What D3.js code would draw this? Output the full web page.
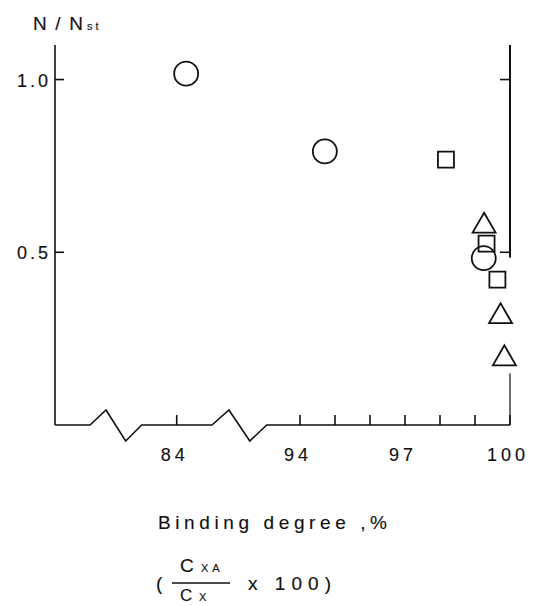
<!DOCTYPE html>
<html>
<head>
<meta charset="utf-8">
<script src="https://cdn.jsdelivr.net/npm/d3@7"></script>
<style>
  body { margin: 0; background: #fff; }
  svg { display: block; }
  text { font-family: "Liberation Sans", Arial, sans-serif; fill: #111; stroke: #111; stroke-width: 0.15; }
</style>
</head>
<body>
<div class="wrapper"></div>
<script>
// values
var xTicks = [84, 94, 95, 96, 97, 98, 99, 100];
var xTickLabels = [84, 94, 97, 100];
var yTicks = [0.5, 1.0];
var yTickLabels = ["0.5", "1.0"];

// [binding degree %, N/Nst]
var circles = [[84.27, 1.017], [94.71, 0.792], [99.25, 0.483]];
var squares = [[98.17, 0.768], [99.33, 0.525], [99.64, 0.421]];
var triangles = [[99.26, 0.576], [99.73, 0.314], [99.84, 0.192]];

var width = 534, height = 606;
var margin = { left: 55, right: 510, top: 45, bottom: 425 };

var svg = d3.select(".wrapper").append("svg")
  .attr("width", width)
  .attr("height", height);

// broken x scale: two segments with the same unit length
var x = d3.scaleLinear()
  .domain([83, 85, 93, 100])
  .range([141.7, 211.7, 265, margin.right]);

var y = d3.scaleLinear()
  .domain([0, 1.1])
  .range([margin.bottom, margin.top]);

var axisG = svg.append("g")
  .attr("fill", "none")
  .attr("stroke", "#111")
  .attr("stroke-width", 1.6);

// left axis
axisG.append("line")
  .attr("x1", margin.left).attr("x2", margin.left)
  .attr("y1", y(1.1)).attr("y2", y(0));

// right axis, drawn in two pieces like the original
axisG.append("line")
  .attr("x1", x(100)).attr("x2", x(100))
  .attr("y1", y(1.1)).attr("y2", y(0.485))
  .attr("stroke-width", 2);
axisG.append("line")
  .attr("x1", x(100)).attr("x2", x(100))
  .attr("y1", y(0.15)).attr("y2", y(0))
  .attr("stroke-width", 1.2);

// bottom axis with two zigzag breaks
function zigzag(x0, x1) {
  var w = x1 - x0;
  return [[x0, 0], [x0 + w * 0.31, -15], [x0 + w * 0.69, 16], [x1, 0]];
}
var seg1End = margin.left + 35;
var seg2Start = x(83), seg2End = x(85.04), seg3Start = x(93.05);
var pts = [[margin.left, 0]]
  .concat(zigzag(seg1End, seg2Start))
  .concat(zigzag(seg2End, seg3Start))
  .concat([[x(100), 0]]);
axisG.append("path")
  .attr("transform", "translate(0," + margin.bottom + ")")
  .attr("stroke-linejoin", "miter")
  .attr("d", d3.line()(pts));

// x ticks (pointing up)
axisG.selectAll(".xtick").data(xTicks).enter().append("line")
  .attr("class", "xtick")
  .attr("x1", d => x(d)).attr("x2", d => x(d))
  .attr("y1", margin.bottom).attr("y2", margin.bottom - 10);

// y ticks: left side inwards, right side inwards
axisG.selectAll(".ytickL").data(yTicks).enter().append("line")
  .attr("class", "ytickL")
  .attr("x1", margin.left).attr("x2", margin.left + 9)
  .attr("y1", d => y(d)).attr("y2", d => y(d));
axisG.selectAll(".ytickR").data(yTicks).enter().append("line")
  .attr("class", "ytickR")
  .attr("x1", x(100)).attr("x2", x(100) - 10)
  .attr("y1", d => y(d)).attr("y2", d => y(d));

// tick labels
svg.selectAll(".xlab").data(xTickLabels).enter().append("text")
  .attr("class", "xlab")
  .attr("x", d => x(d) - 2)
  .attr("y", margin.bottom + 36)
  .attr("text-anchor", "middle")
  .attr("font-size", 18)
  .attr("letter-spacing", 4)
  .text(d => d);

svg.selectAll(".ylab").data(yTicks).enter().append("text")
  .attr("class", "ylab")
  .attr("x", 17)
  .attr("y", d => y(d) + 7)
  .attr("font-size", 18)
  .attr("letter-spacing", 3)
  .text((d, i) => yTickLabels[i]);

// y title
var yTitle = svg.append("text")
  .attr("x", 33).attr("y", 30)
  .attr("font-size", 19);
yTitle.append("tspan").attr("textLength", 50).attr("lengthAdjust", "spacing").text("N/N");
yTitle.append("tspan").attr("x", 87).attr("font-size", 11).attr("letter-spacing", 3).text("st");

// x title
svg.append("text")
  .attr("x", 158).attr("y", 529)
  .attr("font-size", 19)
  .attr("textLength", 229)
  .attr("lengthAdjust", "spacing")
  .text("Binding degree ,%");

var fr = svg.append("g");
fr.append("text").attr("x", 156).attr("y", 590).attr("font-size", 19).text("(");
fr.append("text").attr("x", 180).attr("y", 572).attr("font-size", 19)
  .call(t => {
    t.append("tspan").text("C");
    t.append("tspan").attr("x", 201).attr("font-size", 11).attr("letter-spacing", 4).text("XA");
  });
fr.append("line")
  .attr("x1", 172).attr("x2", 230).attr("y1", 583).attr("y2", 583)
  .attr("stroke", "#111").attr("stroke-width", 1.6);
fr.append("text").attr("x", 180).attr("y", 601).attr("font-size", 17)
  .call(t => {
    t.append("tspan").text("C");
    t.append("tspan").attr("x", 199).attr("font-size", 11).text("X");
  });
fr.append("text").attr("x", 248).attr("y", 590).attr("font-size", 19)
  .attr("textLength", 83).attr("lengthAdjust", "spacing")
  .text("x  100)");

// data marks
var markG = svg.append("g")
  .attr("fill", "none")
  .attr("stroke", "#111")
  .attr("stroke-width", 1.8);

markG.selectAll(".circle").data(circles).enter().append("circle")
  .attr("class", "circle")
  .attr("cx", d => x(d[0])).attr("cy", d => y(d[1]))
  .attr("r", 12);

markG.selectAll(".square").data(squares).enter().append("path")
  .attr("class", "square")
  .attr("transform", d => "translate(" + x(d[0]) + "," + y(d[1]) + ")")
  .attr("d", d3.symbol().type(d3.symbolSquare).size(256));

markG.selectAll(".triangle").data(triangles).enter().append("path")
  .attr("class", "triangle")
  .attr("stroke-linejoin", "miter")
  .attr("transform", d => "translate(" + x(d[0]) + "," + y(d[1]) + ")")
  .attr("d", d3.symbol().type(d3.symbolTriangle).size(229));
</script>
</body>
</html>
